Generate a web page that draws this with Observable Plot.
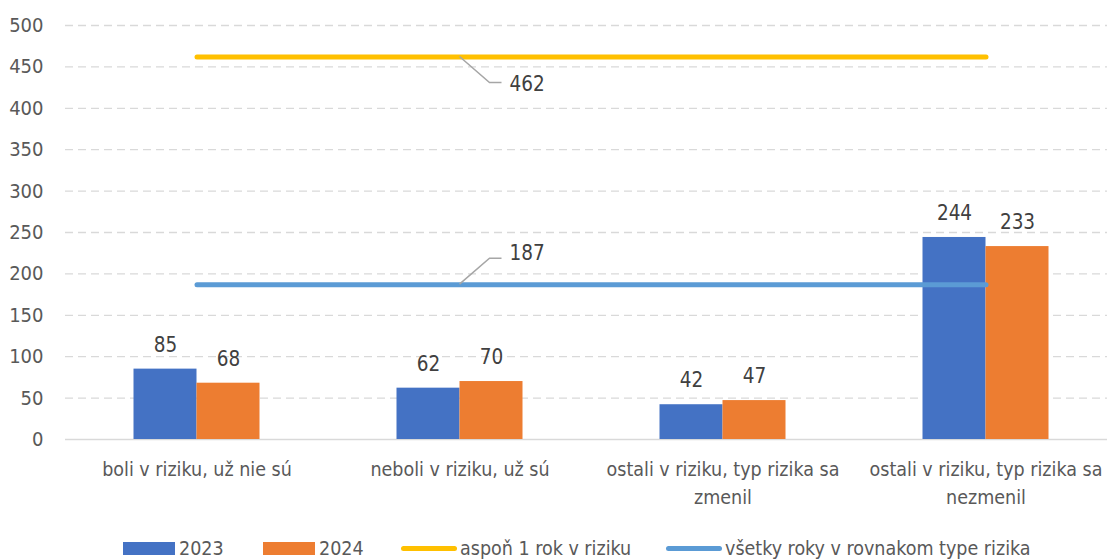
<!DOCTYPE html>
<html><head><meta charset="utf-8">
<script src="https://cdn.jsdelivr.net/npm/d3@7"></script>
<script src="https://cdn.jsdelivr.net/npm/@observablehq/plot@0.6"></script>
<style>
body{margin:0;background:#fff;font-family:"Liberation Sans Narrow","DejaVu Sans Condensed",sans-serif;}
#chart svg{display:block;}
.legend{position:relative;height:29px;font-size:19.5px;color:#595959;}
.legend .item{position:absolute;top:0;display:flex;align-items:center;height:36px;}
.legend .sw{display:inline-block;margin-right:4px;}
</style>
</head><body>
<div id="chart"></div>
<div class="legend" id="legend"></div>
<script>
const categories = ["boli v riziku, už nie sú","neboli v riziku, už sú","ostali v riziku, typ rizika sa zmenil","ostali v riziku, typ rizika sa nezmenil"];
const categoryLabels = ["boli v riziku, už nie sú","neboli v riziku, už sú","ostali v riziku, typ rizika sa\nzmenil","ostali v riziku, typ rizika sa\nnezmenil"];
const values2023 = [85, 62, 42, 244];
const values2024 = [68, 70, 47, 233];
const atLeastOneYear = 462;
const allYearsSame = 187;
const yTicks = [0, 50, 100, 150, 200, 250, 300, 350, 400, 450, 500];
const seriesNames = ["2023", "2024", "aspoň 1 rok v riziku", "všetky roky v rovnakom type rizika"];
const colors = ["#4472C4", "#ED7D31", "#FFC000", "#5B9BD5"];

const bars = [];
categories.forEach((c, i) => {
  bars.push({cat: c, year: "2023", v: values2023[i]});
  bars.push({cat: c, year: "2024", v: values2024[i]});
});
const b23 = bars.filter(d => d.year === "2023");
const b24 = bars.filter(d => d.year === "2024");
const lineA = categories.map(c => ({cat: c, v: atLeastOneYear}));
const lineB = categories.map(c => ({cat: c, v: allYearsSame}));
const callouts = [
  {cat: categories[1], v: atLeastOneYear, dir: 1},
  {cat: categories[1], v: allYearsSame, dir: -1}
];
const labelMap = new Map(categories.map((c, i) => [c, categoryLabels[i]]));

const leader = (index, scales, values, dims, ctx) => {
  const g = d3.create("svg:g");
  const bw = scales.x.bandwidth ? scales.x.bandwidth() : 0;
  for (const d of callouts) {
    const cx = scales.x(d.cat) + bw / 2;
    const cy = scales.y(d.v);
    const ty = d.dir > 0 ? cy + 26 : cy - 26;
    g.append("path")
      .attr("d", `M${cx},${cy}L${cx + 30},${ty}L${cx + 42},${ty}`)
      .attr("fill", "none").attr("stroke", "#A6A6A6").attr("stroke-width", 1.5);
    g.append("text")
      .attr("x", cx + 50).attr("y", ty + (d.dir > 0 ? 1 : -5))
      .attr("dy", "0.35em")
      .attr("text-anchor", "start")
      .attr("fill", "#404040").attr("font-size", 20.5)
      .text(d.v);
  }
  return g.node();
};

const plot = Plot.plot({
  width: 1107,
  height: 530,
  marginLeft: 65,
  marginRight: 0,
  marginTop: 25,
  marginBottom: 91,
  style: {fontFamily: '"Liberation Sans Narrow","DejaVu Sans Condensed",sans-serif', fontSize: "20px", color: "#595959", background: "#fff"},
  x: {domain: categories, range: [65, 1117], padding: 0},
  y: {domain: [0, 500], range: [439, 25]},
  marks: [
    Plot.ruleY(yTicks.filter(t => t > 0), {stroke: "#D9D9D9", strokeWidth: 1.3, strokeDasharray: "8,5"}),
    Plot.ruleY([0], {stroke: "#D9D9D9", strokeWidth: 1.5}),
    Plot.axisY({ticks: yTicks, tickSize: 0, tickPadding: 22, fontSize: 20, fill: "#595959", label: null}),
    Plot.axisX({tickSize: 0, tickPadding: 17, fontSize: 19.5, fill: "#595959", label: null, tickFormat: d => labelMap.get(d), lineHeight: 1.42}),
    Plot.barY(b23, {x: "cat", y: "v", fill: colors[0], insetLeft: 68.5, insetRight: 131.5}),
    Plot.barY(b24, {x: "cat", y: "v", fill: colors[1], insetLeft: 131.5, insetRight: 68.5}),
    Plot.text(b23, {x: "cat", y: "v", text: "v", dx: -31.5, dy: -24, fill: "#404040", fontSize: 20.5}),
    Plot.text(b24, {x: "cat", y: "v", text: "v", dx: 31.5, dy: -24, fill: "#404040", fontSize: 20.5}),
    Plot.lineY(lineA, {x: "cat", y: "v", stroke: colors[2], strokeWidth: 5, strokeLinecap: "round"}),
    Plot.lineY(lineB, {x: "cat", y: "v", stroke: colors[3], strokeWidth: 5, strokeLinecap: "round"}),
    leader
  ]
});
document.getElementById("chart").appendChild(plot);

const legend = document.getElementById("legend");
const legendPos = [123, 263, 401, 666];
seriesNames.forEach((name, i) => {
  const item = document.createElement("div");
  item.className = "item";
  item.style.left = legendPos[i] + "px";
  const sw = document.createElement("span");
  sw.className = "sw";
  if (i < 2) {
    sw.style.width = "52px"; sw.style.height = "13px"; sw.style.background = colors[i];
  } else {
    sw.style.width = "56px"; sw.style.height = "5px"; sw.style.borderRadius = "3px"; sw.style.background = colors[i];
    sw.style.marginRight = "3px";
  }
  item.appendChild(sw);
  const t = document.createElement("span");
  t.textContent = name;
  item.appendChild(t);
  legend.appendChild(item);
});
</script>
</body></html>
